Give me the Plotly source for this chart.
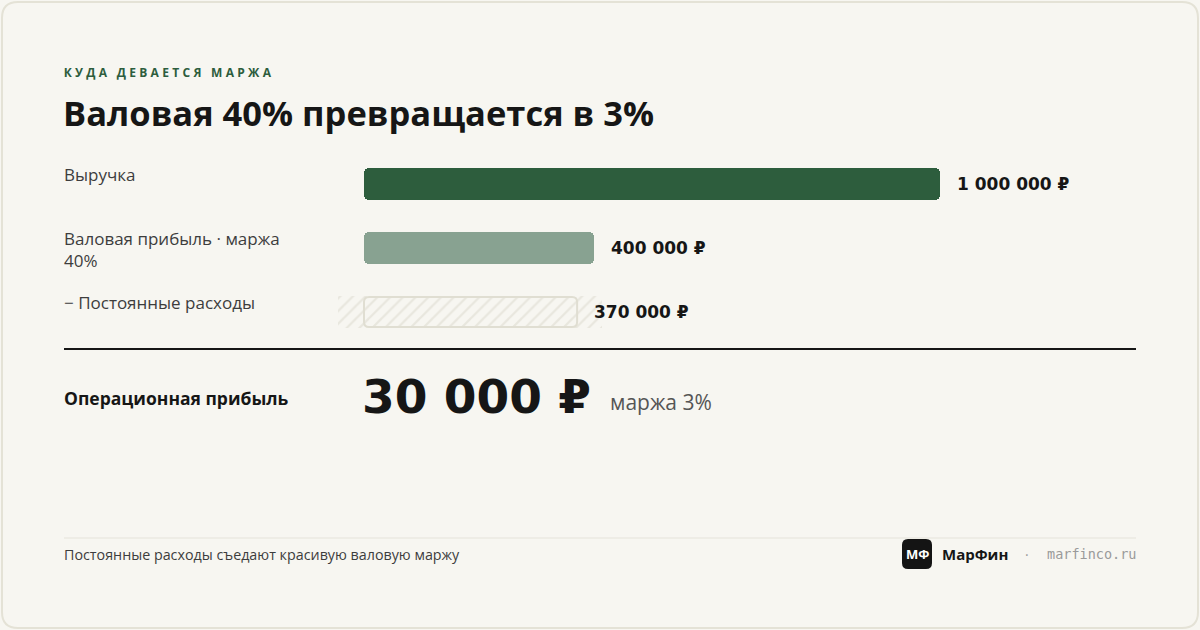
import plotly.graph_objects as go

# ---------------- data ----------------
categories = ["Выручка", "Валовая прибыль · маржа<br>40%", "− Постоянные расходы"]
values = [1_000_000, 400_000, 370_000]
kicker = "КУДА ДЕВАЕТСЯ МАРЖА"
title = "Валовая 40% превращается в 3%"
result_label = "Операционная прибыль"
footer_note = "Постоянные расходы съедают красивую валовую маржу"
brand = "МарФин"
brand_mark = "МФ"
site = "marfinco.ru"

# ---------------- layout constants ----------------
W, H = 1200, 630
BAR_LEFT_PX = 364          # pixel where value 0 sits
BAR_FULL_PX = 576          # pixel length of the largest value
ROW0_PX = 184              # centre of first row
ROW_STEP = 64              # px between rows
BAR_PX = 32                # bar thickness
RADIUS = 5

BG = "#f7f6f1"
DARK = "#2d5d3d"
LIGHT = "#88a291"
HATCH = "#dad7cb"
OUTLINE = "#e0ded2"
INK = "#161616"
TEXT = "#3d3d3d"
FONT = "Open Sans"
NUM = "DejaVu Sans"
MONO = "DejaVu Sans Mono"

vmax = max(values)
per_px = vmax / BAR_FULL_PX
x_range = [-BAR_LEFT_PX * per_px, (W - BAR_LEFT_PX) * per_px]
y_top = -ROW0_PX / ROW_STEP
y_bot = (H - ROW0_PX) / ROW_STEP

op_profit = values[1] - values[2]
op_margin = op_profit / values[0] * 100


def fmt(v):
    return f"{v:,.0f}".replace(",", " ") + " ₽"


def px(x):
    return x / W


def py(y):
    return 1 - y / H


fig = go.Figure()
bw = BAR_PX / ROW_STEP

# hatch underlay for the fixed-cost row (slightly wider than the bar)
pad_l, pad_r = 26 * per_px, 25 * per_px
fig.add_trace(go.Bar(
    y=[categories[2]], x=[values[2] + pad_l + pad_r], base=[-pad_l],
    orientation="h", width=bw,
    marker=dict(color="rgba(0,0,0,0)", line=dict(width=0),
                pattern=dict(shape="/", fgcolor=HATCH, bgcolor="rgba(0,0,0,0)",
                             size=9, solidity=0.25)),
    hoverinfo="skip", showlegend=False,
))

# solid bars: two overlapping halves so that both ends get rounded corners
solid_cats = categories[:2]
solid_vals = values[:2]
colors = [DARK, LIGHT]
fig.add_trace(go.Bar(   # right half, rounded at the value end
    y=solid_cats, x=[v * 0.6 for v in solid_vals], base=[v * 0.4 for v in solid_vals],
    orientation="h", width=bw,
    marker=dict(color=colors, line=dict(width=0), cornerradius=RADIUS),
    hoverinfo="skip", showlegend=False,
))
fig.add_trace(go.Bar(   # left half, drawn backwards so the zero end gets rounded
    y=solid_cats, x=[-v * 0.6 for v in solid_vals], base=[v * 0.6 for v in solid_vals],
    orientation="h", width=bw,
    marker=dict(color=colors, line=dict(width=0), cornerradius=RADIUS),
    hoverinfo="skip", showlegend=False,
))

annotations = []
for cat in categories:
    annotations.append(dict(
        x=px(62), xref="paper", xanchor="left",
        y=cat, yref="y", yanchor="top", yshift=BAR_PX / 2 + 7,
        text=cat, showarrow=False, align="left",
        font=dict(family=FONT, size=17, color=TEXT),
    ))
for cat, v in zip(categories, values):
    annotations.append(dict(
        x=v, xref="x", xanchor="left", xshift=15,
        y=cat, yref="y", yanchor="middle",
        text=f"<b>{fmt(v)}</b>", showarrow=False,
        font=dict(family=NUM, size=17, color=INK),
    ))

annotations += [
    dict(x=px(62), y=py(72), xref="paper", yref="paper", xanchor="left", yanchor="middle",
         text=f"<b>{kicker}</b>", showarrow=False,
         font=dict(family=FONT, size=12, color=DARK)),
    dict(x=px(61), y=py(112), xref="paper", yref="paper", xanchor="left", yanchor="middle",
         text=f"<b>{title}</b>", showarrow=False,
         font=dict(family=FONT, size=34.5, color=INK)),
]

annotations += [
    dict(x=px(62), y=py(398), xref="paper", yref="paper", xanchor="left", yanchor="middle",
         text=f"<b>{result_label}</b>", showarrow=False,
         font=dict(family=FONT, size=17.5, color=INK)),
    dict(x=px(360), y=py(396), xref="paper", yref="paper", xanchor="left", yanchor="middle",
         text=f"<b>{fmt(op_profit)}</b>", showarrow=False,
         font=dict(family=NUM, size=47, color=INK)),
    dict(x=px(608), y=py(402), xref="paper", yref="paper", xanchor="left", yanchor="middle",
         text=f"маржа {op_margin:.0f}%", showarrow=False,
         font=dict(family=FONT, size=21, color="#555555")),
]

annotations += [
    dict(x=px(62), y=py(554), xref="paper", yref="paper", xanchor="left", yanchor="middle",
         text=footer_note, showarrow=False,
         font=dict(family=FONT, size=14.3, color=TEXT)),
    dict(x=px(917), y=py(554), xref="paper", yref="paper", xanchor="center", yanchor="middle",
         text=f"<b>{brand_mark}</b>", showarrow=False,
         font=dict(family=FONT, size=13, color="white")),
    dict(x=px(940), y=py(554), xref="paper", yref="paper", xanchor="left", yanchor="middle",
         text=f"<b>{brand}</b>", showarrow=False,
         font=dict(family=FONT, size=15, color=INK)),
    dict(x=px(1027), y=py(554), xref="paper", yref="paper", xanchor="center", yanchor="middle",
         text="·", showarrow=False,
         font=dict(family=FONT, size=14, color="#9a9a9a")),
    dict(x=px(1138), y=py(554), xref="paper", yref="paper", xanchor="right", yanchor="middle",
         text=site, showarrow=False,
         font=dict(family=MONO, size=13.5, color="#9a9a9a")),
]


def rounded_path(x0, y0, x1, y1, rx, ry, fx=px, fy=py):
    pts = [
        f"M {fx(x0 + rx)},{fy(y0)}",
        f"L {fx(x1 - rx)},{fy(y0)}",
        f"Q {fx(x1)},{fy(y0)} {fx(x1)},{fy(y0 + ry)}",
        f"L {fx(x1)},{fy(y1 - ry)}",
        f"Q {fx(x1)},{fy(y1)} {fx(x1 - rx)},{fy(y1)}",
        f"L {fx(x0 + rx)},{fy(y1)}",
        f"Q {fx(x0)},{fy(y1)} {fx(x0)},{fy(y1 - ry)}",
        f"L {fx(x0)},{fy(y0 + ry)}",
        f"Q {fx(x0)},{fy(y0)} {fx(x0 + rx)},{fy(y0)}",
        "Z",
    ]
    return " ".join(pts)


# outline of the fixed-cost bar: x in data units (axis 'x'), y in paper units
row3_mid = ROW0_PX + 2 * ROW_STEP
outline_path = rounded_path(
    0, row3_mid - BAR_PX / 2 + 1, values[2], row3_mid + BAR_PX / 2 - 1,
    RADIUS * per_px, RADIUS, fx=lambda v: v, fy=py,
)

shapes = [
    dict(type="path", xref="paper", yref="paper",
         path=rounded_path(2, 2, 1198, 628, 16, 16),
         line=dict(color="#e4e2d6", width=2), fillcolor="rgba(0,0,0,0)", layer="below"),
    dict(type="path", xref="x", yref="paper", path=outline_path,
         line=dict(color=OUTLINE, width=2), fillcolor="rgba(0,0,0,0)", layer="above"),
    dict(type="line", xref="paper", yref="paper", x0=px(64), x1=px(1136), y0=py(349), y1=py(349),
         line=dict(color=INK, width=2)),
    dict(type="line", xref="paper", yref="paper", x0=px(64), x1=px(1136), y0=py(538), y1=py(538),
         line=dict(color="#e5e3da", width=1)),
    dict(type="path", xref="paper", yref="paper",
         path=rounded_path(902, 539, 932, 569, 6, 6),
         line=dict(width=0), fillcolor="#141414", layer="below"),
]

fig.update_layout(
    width=W, height=H,
    margin=dict(l=0, r=0, t=0, b=0),
    paper_bgcolor=BG, plot_bgcolor="rgba(0,0,0,0)",
    barmode="overlay", bargap=0,
    xaxis=dict(range=x_range, visible=False, fixedrange=True),
    yaxis=dict(type="category", categoryorder="array", categoryarray=categories,
               range=[y_bot, y_top], visible=False, fixedrange=True),
    annotations=annotations, shapes=shapes,
    showlegend=False,
)

post = """
document.body.style.margin = '0';
document.body.style.background = '%s';
var gd = document.getElementById('{plot_id}');
gd.querySelectorAll('text.annotation-text').forEach(function (t) {
  if (t.textContent.indexOf('%s') === 0) {
    var w0 = t.getBBox().width;
    var x0 = parseFloat(t.getAttribute('x')) || 0;
    t.setAttribute('text-anchor', 'start');
    t.setAttribute('x', x0 - w0 / 2);
    t.setAttribute('letter-spacing', '3.3px');
    t.style.letterSpacing = '3.3px';
  }
});
""" % (BG, kicker)

fig.write_html("out.html", config={"displayModeBar": False}, post_script=post)
